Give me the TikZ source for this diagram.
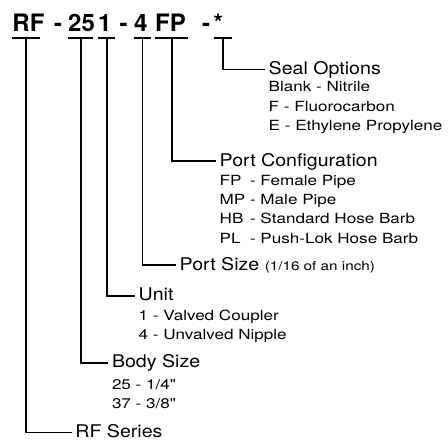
\documentclass[tikz,border=0pt]{standalone}
\usepackage{fontspec}
\setmainfont{TeX Gyre Heros}
\newfontfamily\lblfont[FakeStretch=1.12]{TeX Gyre Heros}
\newfontfamily\itemfont[FakeStretch=1.22]{TeX Gyre Heros}
\usetikzlibrary{positioning}
\newlength{\cdwidth}
\newcommand{\cd}[1]{\settowidth{\cdwidth}{MP}\makebox[\cdwidth][l]{#1}}
\newcommand{\smallnote}{\itemfont\fontsize{12.5}{14}\selectfont}

\begin{document}
\begin{tikzpicture}[
  x=1pt, y=-1pt,
  tok/.style={inner sep=0pt, anchor=base west, align=left, font=\bfseries\fontsize{24}{24}\selectfont},
  lbl/.style={anchor=west, inner xsep=3.5pt, inner ysep=0pt, text height=10pt, text depth=0pt, font=\lblfont\fontsize{17.5}{21}\selectfont},
  opts/.style={align=left, inner xsep=3.5pt, inner ysep=0pt, font=\itemfont\fontsize{14}{19.3}\selectfont},
  lead/.style={line width=1.6pt}
]
\useasboundingbox (0,0) rectangle (448,440);

% part number
\node[tok, text width=27pt]   (rf)   at (12.3,31.7)  {RF};
\node[tok]                    (d1)   at (54,31.7)    {-};
\node[tok, text width=25pt]   (body) at (68,31.7)    {25};
\node[tok, text width=17pt]   (unit) at (98,31.7)    {1};
\node[tok]                    (d2)   at (119.5,31.7) {-};
\node[tok, text width=16.7pt] (size) at (134,31.7)   {4};
\node[tok, text width=33pt]   (port) at (155,31.7)   {FP};
\node[tok]                    (d3)   at (201.8,31.7) {-};
\node[tok, text width=18.3pt] (seal) at (213.5,31.7) {*};

\foreach \t in {rf,body,unit,size,port,seal}
  \draw[lead] ([yshift=-6pt]\t.base west) -- ([yshift=-6pt]\t.base east);

% labels
\node[lbl] (lseal) at (265,69.3)    {Seal Options};
\node[lbl] (lport) at (216,161)     {Port Configuration};
\node[lbl] (lsize) at (176,265)     {Port Size {\smallnote(1/16 of an inch)}};
\node[lbl] (lunit) at (135,295.7)   {Unit};
\node[lbl] (lbody) at (108.3,362.7) {Body Size};
\node[lbl] (lrf)   at (71.7,432.5)  {RF Series};

\node[opts, below right=7pt and 0pt of lseal.south west] (oseal)
  {Blank - Nitrile\\F - Fluorocarbon\\E - Ethylene Propylene};
\node[opts, below right=8.5pt and 0pt of lport.south west] (oport)
  {\cd{FP} - Female Pipe\\\cd{MP} - Male Pipe\\\cd{HB} - Standard Hose Barb\\\cd{PL} - Push-Lok Hose Barb};
\node[opts, below right=8.5pt and 0pt of lunit.south west] (ounit)
  {1 - Valved Coupler\\4 - Unvalved Nipple};
\node[opts, below right=11pt and 0pt of lbody.south west] (obody)
  {25 - 1/4"\\37 - 3/8"};

\draw[lead] ([yshift=-6pt]seal.base) |- (lseal.west);
\draw[lead] ([yshift=-6pt]port.base) |- (lport.west);
\draw[lead] ([yshift=-6pt]size.base) |- (lsize.west);
\draw[lead] ([yshift=-6pt]unit.base) |- (lunit.west);
\draw[lead] ([yshift=-6pt]body.base) |- (lbody.west);
\draw[lead] ([yshift=-6pt]rf.base)   |- (lrf.west);
\end{tikzpicture}
\end{document}
